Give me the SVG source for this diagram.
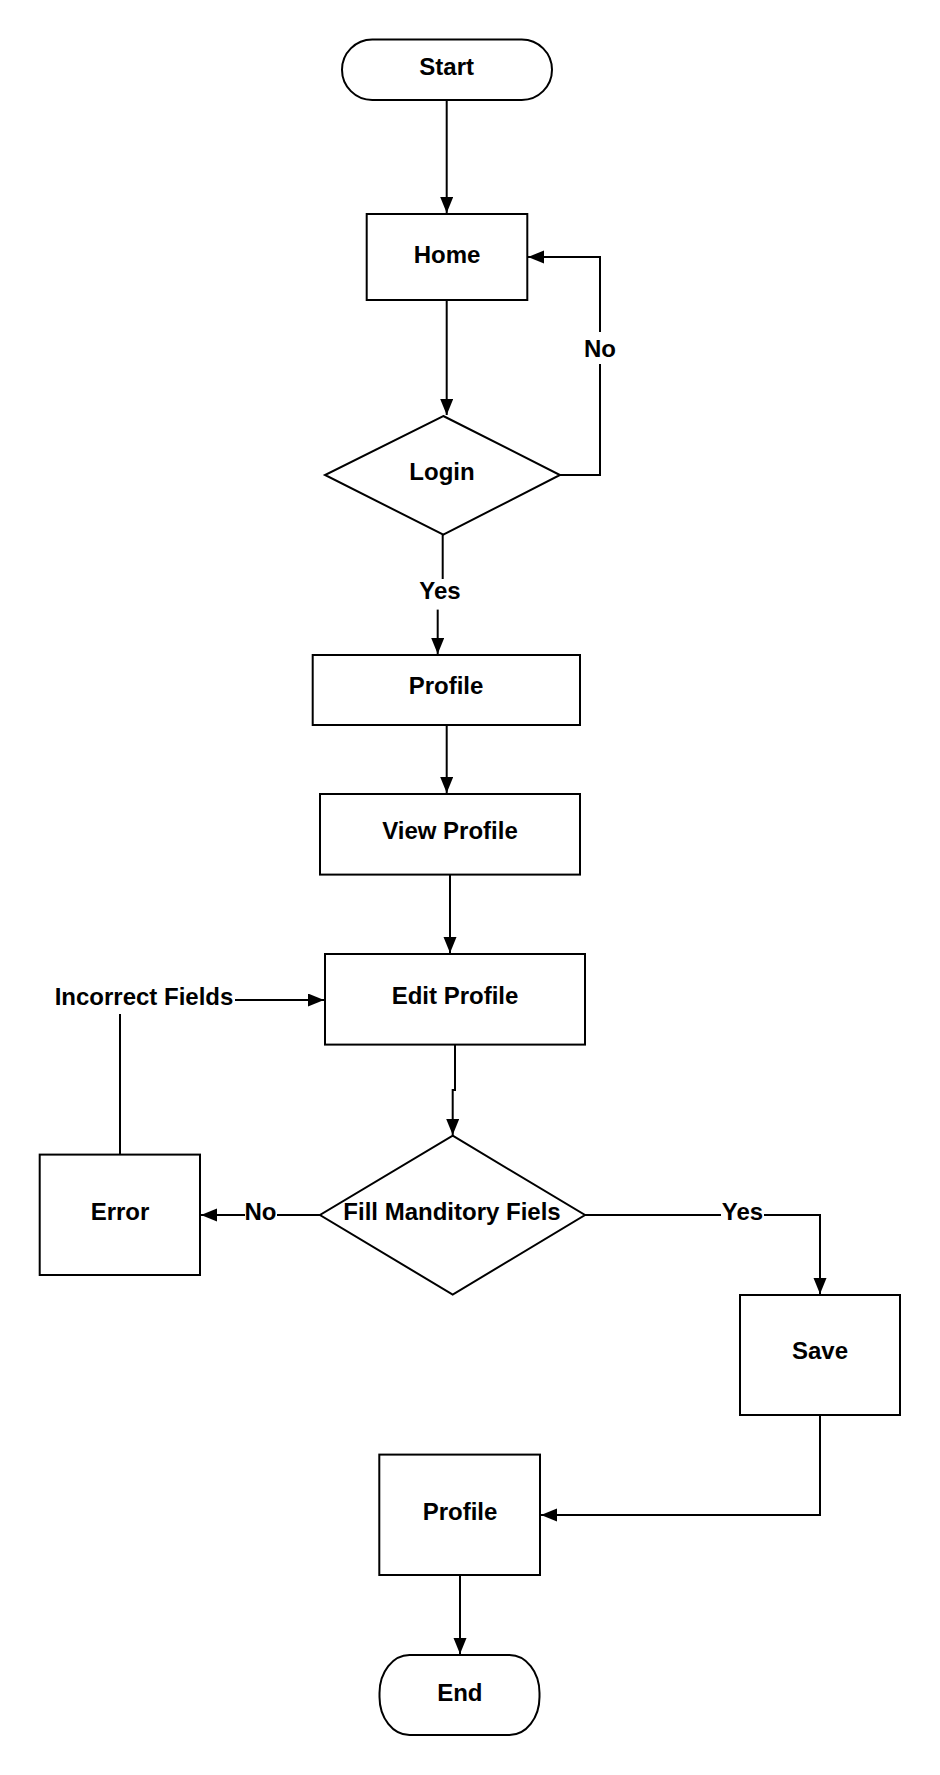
<svg xmlns="http://www.w3.org/2000/svg" width="940" height="1775" viewBox="0 0 940 1775">
<style>
.shape{fill:#fff;stroke:#000;stroke-width:2}
.line{fill:none;stroke:#000;stroke-width:2}
.t{font-family:"Liberation Sans",Arial,sans-serif;font-weight:bold;font-size:24px;fill:#000;text-anchor:middle}
</style>
<defs>
<marker id="arr" markerUnits="userSpaceOnUse" markerWidth="17" markerHeight="14" refX="16" refY="6.5" orient="auto">
<path d="M0,0 L16,6.5 L0,13 z" fill="#000"/>
</marker>
</defs>
<rect width="940" height="1775" fill="#fff"/>
<g id="connectors">
<path class="line" d="M446.7,100 V213" marker-end="url(#arr)"/>
<path class="line" d="M446.7,300 V415" marker-end="url(#arr)"/>
<path class="line" d="M560,475 H600 V364"/>
<path class="line" d="M600,332 V257 H528" marker-end="url(#arr)"/>
<path class="line" d="M442.7,534.6 V579"/>
<path class="line" d="M437.7,609.6 V654" marker-end="url(#arr)"/>
<path class="line" d="M446.7,725 V793" marker-end="url(#arr)"/>
<path class="line" d="M450,874.6 V953" marker-end="url(#arr)"/>
<path class="line" d="M455,1044.6 V1090 H452.7 V1135" marker-end="url(#arr)"/>
<path class="line" d="M120,1154.6 V1014"/>
<path class="line" d="M235,1000 H324" marker-end="url(#arr)"/>
<path class="line" d="M320,1215 H277"/>
<path class="line" d="M245,1215 H201" marker-end="url(#arr)"/>
<path class="line" d="M585,1215 H721"/>
<path class="line" d="M764,1215 H820 V1294" marker-end="url(#arr)"/>
<path class="line" d="M820,1415 V1515 H541" marker-end="url(#arr)"/>
<path class="line" d="M460,1575 V1654" marker-end="url(#arr)"/>
<text class="t" x="600" y="357">No</text>
<text class="t" x="440" y="599">Yes</text>
<text class="t" x="144" y="1004.6">Incorrect Fields</text>
<text class="t" x="260.5" y="1220">No</text>
<text class="t" x="742.5" y="1220">Yes</text>
</g>
<g id="start">
<rect class="shape" x="342" y="39.5" width="210" height="60.5" rx="30.25" ry="30.25"/>
<text class="t" x="446.7" y="75">Start</text>
</g>
<g id="home">
<rect class="shape" x="366.7" y="214" width="160.6" height="86"/>
<text class="t" x="447" y="263">Home</text>
</g>
<g id="login">
<polygon class="shape" points="443.3,416 560,475 443.3,534.6 325,475"/>
<text class="t" x="442" y="480">Login</text>
</g>
<g id="profile">
<rect class="shape" x="312.7" y="655" width="267.3" height="70"/>
<text class="t" x="446" y="694">Profile</text>
</g>
<g id="view-profile">
<rect class="shape" x="320" y="794" width="260" height="80.6"/>
<text class="t" x="450" y="839.3">View Profile</text>
</g>
<g id="edit-profile">
<rect class="shape" x="325" y="954" width="260" height="90.6"/>
<text class="t" x="455" y="1004.3">Edit Profile</text>
</g>
<g id="fill-mandatory">
<polygon class="shape" points="452.7,1135.7 585,1215 452.7,1294.6 320,1215"/>
<text class="t" x="452" y="1220">Fill Manditory Fiels</text>
</g>
<g id="error">
<rect class="shape" x="39.7" y="1154.6" width="160.3" height="120.4"/>
<text class="t" x="120" y="1220">Error</text>
</g>
<g id="save">
<rect class="shape" x="740" y="1295" width="160" height="120"/>
<text class="t" x="820" y="1359">Save</text>
</g>
<g id="profile-2">
<rect class="shape" x="379.3" y="1454.6" width="160.7" height="120.4"/>
<text class="t" x="460" y="1520">Profile</text>
</g>
<g id="end">
<rect class="shape" x="379.5" y="1655" width="160" height="80" rx="30" ry="38"/>
<text class="t" x="459.8" y="1701">End</text>
</g>
</svg>
